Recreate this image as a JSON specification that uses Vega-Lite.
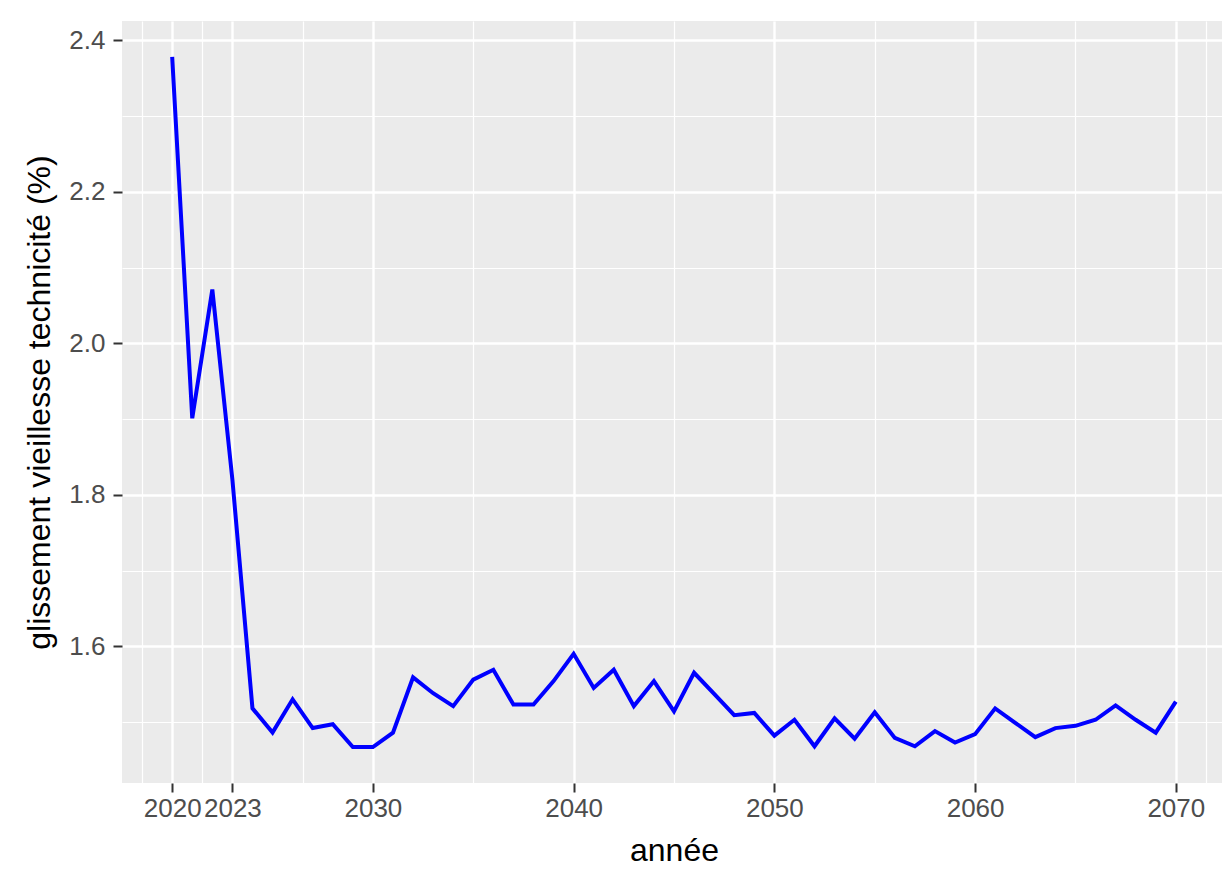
{
  "$schema": "https://vega.github.io/schema/vega-lite/v6.json",
  "autosize": "none",
  "width": 1104,
  "height": 762,
  "padding": {"left": 122, "top": 21, "right": 0, "bottom": 96},
  "background": "white",
  "config": {
    "view": {"fill": "#EBEBEB", "stroke": null},
    "font": "Liberation Sans",
    "axis": {
      "domain": false,
      "gridColor": "white",
      "tickColor": "#333333",
      "tickWidth": 2,
      "tickSize": 9,
      "labelColor": "#4D4D4D",
      "labelFont": "Liberation Sans",
      "labelFontSize": 26,
      "titleFont": "Liberation Sans",
      "titleFontWeight": "normal",
      "titleColor": "#000000",
      "titleFontSize": 32
    }
  },
  "data": {
    "values": [
      {"year": 2020, "value": 2.378},
      {"year": 2021, "value": 1.901},
      {"year": 2022, "value": 2.071},
      {"year": 2023, "value": 1.820},
      {"year": 2024, "value": 1.518},
      {"year": 2025, "value": 1.486},
      {"year": 2026, "value": 1.530},
      {"year": 2027, "value": 1.492},
      {"year": 2028, "value": 1.497},
      {"year": 2029, "value": 1.467},
      {"year": 2030, "value": 1.467},
      {"year": 2031, "value": 1.486},
      {"year": 2032, "value": 1.559},
      {"year": 2033, "value": 1.538},
      {"year": 2034, "value": 1.521},
      {"year": 2035, "value": 1.556},
      {"year": 2036, "value": 1.569},
      {"year": 2037, "value": 1.523},
      {"year": 2038, "value": 1.523},
      {"year": 2039, "value": 1.554},
      {"year": 2040, "value": 1.590},
      {"year": 2041, "value": 1.545},
      {"year": 2042, "value": 1.569},
      {"year": 2043, "value": 1.521},
      {"year": 2044, "value": 1.554},
      {"year": 2045, "value": 1.514},
      {"year": 2046, "value": 1.565},
      {"year": 2047, "value": 1.537},
      {"year": 2048, "value": 1.509},
      {"year": 2049, "value": 1.512},
      {"year": 2050, "value": 1.482},
      {"year": 2051, "value": 1.503},
      {"year": 2052, "value": 1.468},
      {"year": 2053, "value": 1.505},
      {"year": 2054, "value": 1.478},
      {"year": 2055, "value": 1.513},
      {"year": 2056, "value": 1.479},
      {"year": 2057, "value": 1.468},
      {"year": 2058, "value": 1.488},
      {"year": 2059, "value": 1.473},
      {"year": 2060, "value": 1.484},
      {"year": 2061, "value": 1.518},
      {"year": 2062, "value": 1.499},
      {"year": 2063, "value": 1.480},
      {"year": 2064, "value": 1.492},
      {"year": 2065, "value": 1.495},
      {"year": 2066, "value": 1.503},
      {"year": 2067, "value": 1.522},
      {"year": 2068, "value": 1.503},
      {"year": 2069, "value": 1.486},
      {"year": 2070, "value": 1.527}
    ]
  },
  "mark": {"type": "line", "color": "#0000FF", "strokeWidth": 4},
  "encoding": {
    "x": {
      "field": "year",
      "type": "quantitative",
      "title": "année",
      "scale": {"domain": [2017.5, 2072.5], "nice": false, "zero": false},
      "axis": {
        "values": [2018.5, 2020, 2021.5, 2023, 2026.5, 2030, 2035, 2040, 2045, 2050, 2055, 2060, 2065, 2070, 2071.5],
        "format": "d",
        "labelOverlap": false,
        "labelFlush": false,
        "labelPadding": 3,
        "labelExpr": "(datum.value == 2023 || datum.value % 10 == 0) ? datum.label : ''",
        "gridWidth": {"condition": {"test": "datum.value == 2023 || datum.value % 10 == 0", "value": 2.4}, "value": 1.2},
        "tickOpacity": {"condition": {"test": "datum.value == 2023 || datum.value % 10 == 0", "value": 1}, "value": 0},
        "titlePadding": 14
      }
    },
    "y": {
      "field": "value",
      "type": "quantitative",
      "title": "glissement vieillesse technicité (%)",
      "scale": {"domain": [1.4195, 2.4255], "nice": false, "zero": false},
      "axis": {
        "values": [1.5, 1.6, 1.7, 1.8, 1.9, 2.0, 2.1, 2.2, 2.3, 2.4],
        "format": ".1f",
        "labelOverlap": false,
        "labelFlush": false,
        "labelPadding": 8,
        "labelExpr": "round(datum.value * 10) % 2 == 0 ? datum.label : ''",
        "gridWidth": {"condition": {"test": "round(datum.value * 10) % 2 == 0", "value": 2.4}, "value": 1.2},
        "tickOpacity": {"condition": {"test": "round(datum.value * 10) % 2 == 0", "value": 1}, "value": 0},
        "titlePadding": 12
      }
    }
  }
}
